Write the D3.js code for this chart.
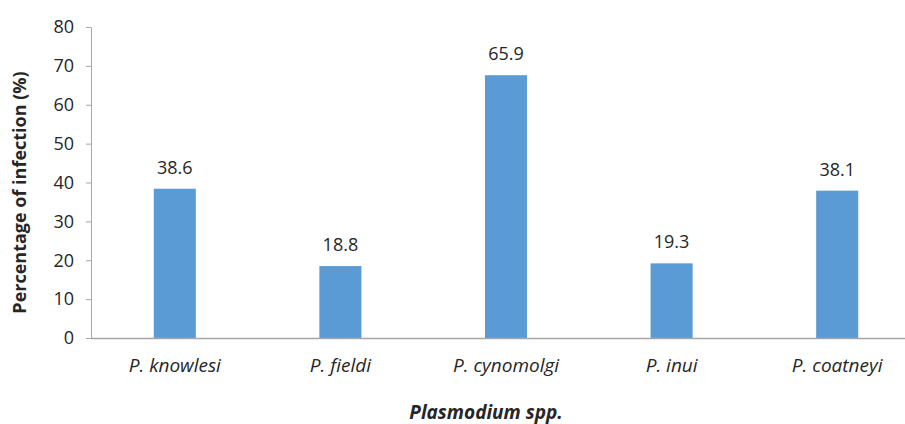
<!DOCTYPE html>
<html>
<head>
<meta charset="utf-8">
<script src="https://cdn.jsdelivr.net/npm/d3@7"></script>
<style>
  body { margin: 0; background: #fff; }
  text { font-family: "Open Sans", "Noto Sans", sans-serif; fill: #262626; }
</style>
</head>
<body>
<svg id="chart" width="905" height="424"></svg>
<script>
// data
const species = ["P. knowlesi", "P. fieldi", "P. cynomolgi", "P. inui", "P. coatneyi"];
const barValues = [38.4, 18.5, 67.6, 19.2, 37.9];   // bar heights as drawn
const valueLabels = ["38.6", "18.8", "65.9", "19.3", "38.1"];
const yTicks = [0, 10, 20, 30, 40, 50, 60, 70, 80];

const svg = d3.select("#chart");
const plotLeft = 91, plotRight = 920, plotTop = 27, plotBottom = 338;

const x = d3.scaleBand().domain(species).range([plotLeft + 1, plotRight]).paddingInner(0.746).paddingOuter(0.373);
const y = d3.scaleLinear().domain([0, 80]).range([plotBottom, plotTop]);

// y axis
const yAxis = svg.append("g")
    .attr("transform", `translate(${plotLeft},0)`)
    .call(d3.axisLeft(y).tickValues(yTicks).tickSize(5).tickPadding(12).tickSizeOuter(0));
yAxis.select(".domain").attr("stroke", "#a6a6a6");
yAxis.selectAll(".tick line").attr("stroke", "#a6a6a6");
yAxis.selectAll(".tick text").attr("font-size", 18).style("font-family", "'Open Sans', sans-serif").attr("fill", "#262626");

// bars
svg.append("g").selectAll("rect")
    .data(species)
    .join("rect")
    .attr("x", d => x(d))
    .attr("width", x.bandwidth())
    .attr("y", (d, i) => y(barValues[i]))
    .attr("height", (d, i) => plotBottom - y(barValues[i]))
    .attr("fill", "#5b9bd5");

// value labels
svg.append("g").selectAll("text")
    .data(species)
    .join("text")
    .attr("x", d => x(d) + x.bandwidth() / 2)
    .attr("y", (d, i) => y(barValues[i]) - 15)
    .attr("text-anchor", "middle")
    .attr("font-size", 18)
    .text((d, i) => valueLabels[i]);

// x axis
const xAxis = svg.append("g")
    .attr("transform", `translate(0,${plotBottom})`)
    .call(d3.axisBottom(x).tickSize(0).tickPadding(21));
xAxis.select(".domain").attr("stroke", "#a6a6a6").attr("stroke-width", 1.5)
    .attr("d", `M${plotLeft},0.5H905`);
xAxis.selectAll(".tick text").attr("font-size", 19).attr("font-style", "italic")
    .style("font-family", "'Open Sans', sans-serif").attr("fill", "#262626");

// axis titles
svg.append("text")
    .attr("transform", "translate(26,192.5) rotate(-90)")
    .attr("text-anchor", "middle")
    .attr("font-size", 18)
    .attr("font-weight", "bold")
    .text("Percentage of infection (%)");

svg.append("text")
    .attr("x", 486)
    .attr("y", 419)
    .attr("text-anchor", "middle")
    .attr("font-size", 19)
    .attr("font-weight", "bold")
    .attr("font-style", "italic")
    .text("Plasmodium spp.");
</script>
</body>
</html>
